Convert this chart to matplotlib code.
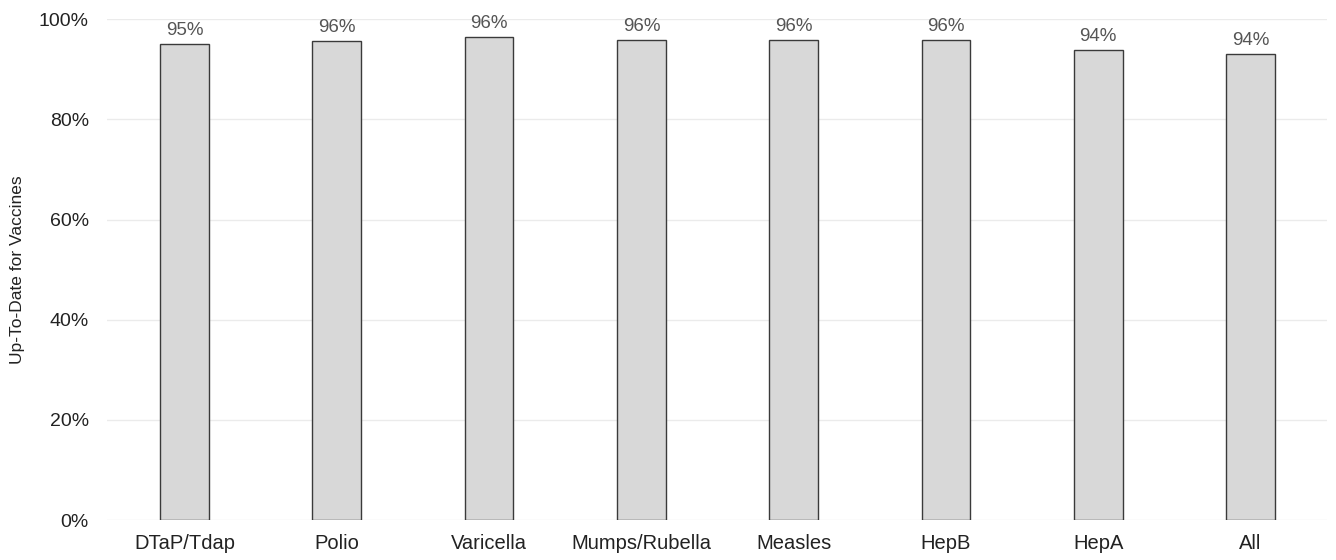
import matplotlib
matplotlib.use("Agg")
import matplotlib.pyplot as plt
from matplotlib.ticker import FuncFormatter

plt.rcParams['font.family'] = ['Liberation Sans', 'DejaVu Sans']

# vaccine categories and up-to-date share (%)
categories = ["DTaP/Tdap", "Polio", "Varicella", "Mumps/Rubella", "Measles", "HepB", "HepA", "All"]
values = [95.1, 95.7, 96.4, 95.8, 95.8, 95.8, 93.9, 93.1]
labels = ["95%", "96%", "96%", "96%", "96%", "96%", "94%", "94%"]

fig = plt.figure(figsize=(13.36, 5.6), dpi=100)
ax = fig.add_axes([0.080, 0.071, 0.913, 0.895])

x = range(len(categories))
bars = ax.bar(x, values, width=0.32, color="#d8d8d8", edgecolor="#3a3a3a", linewidth=1.0, zorder=3)

for b, lab in zip(bars, labels):
    ax.text(b.get_x() + b.get_width() / 2, b.get_height() + 1.0, lab,
            ha="center", va="bottom", fontsize=13.5, color="#555555")

ax.set_xlim(-0.51, 7.5)
ax.set_ylim(0, 100)
ax.set_yticks([0, 20, 40, 60, 80, 100])
ax.yaxis.set_major_formatter(FuncFormatter(lambda v, p: "%d%%" % v))
ax.set_xticks(list(x))
ax.set_xticklabels(categories)
ax.tick_params(axis="both", length=0, colors="#222222")
ax.tick_params(axis="x", pad=10, labelsize=14.5)
ax.tick_params(axis="y", pad=13, labelsize=14)
ax.grid(axis="y", color="#ebebeb", linewidth=1.0, zorder=0)
for s in ax.spines.values():
    s.set_visible(False)
ax.set_ylabel("Up-To-Date for Vaccines", fontsize=12.5, color="#222222", labelpad=10)

fig.savefig("out.png", dpi=100)
